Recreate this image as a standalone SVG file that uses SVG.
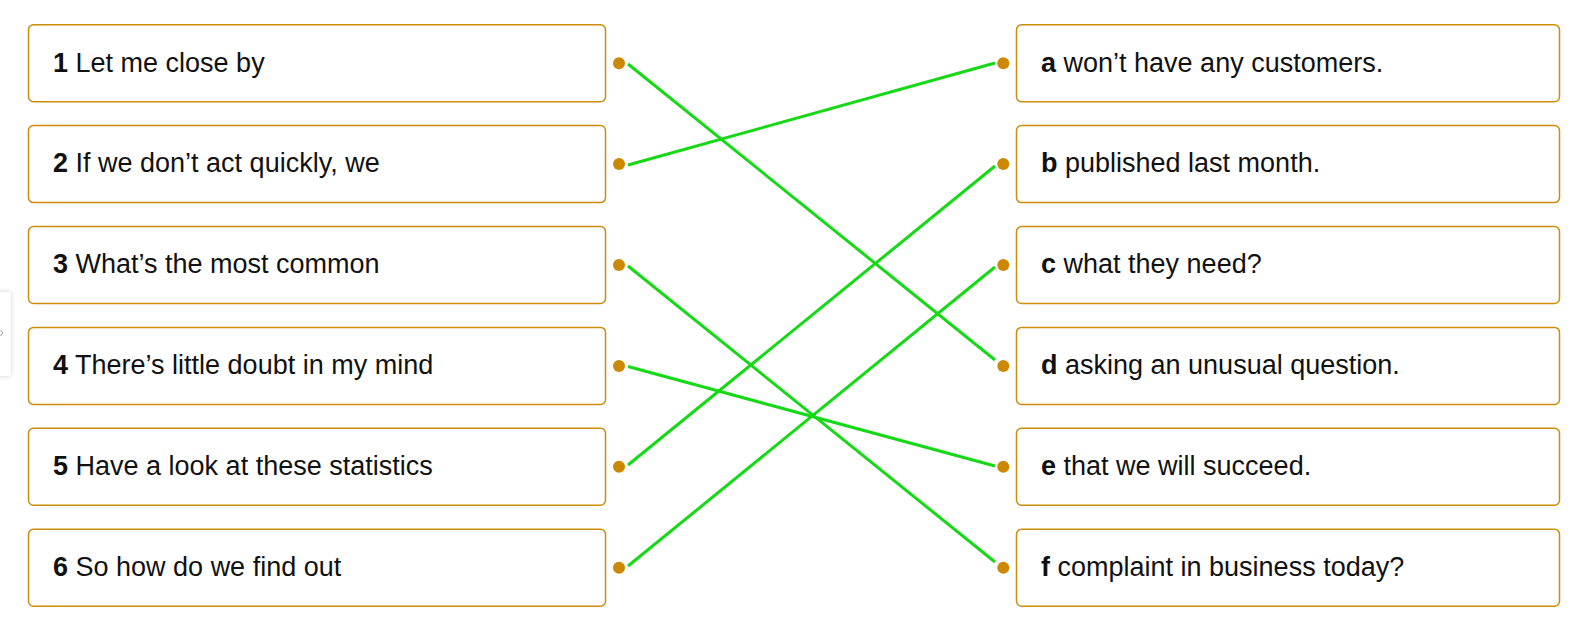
<svg xmlns="http://www.w3.org/2000/svg" width="1592" height="627" viewBox="0 0 1592 627">
<style>
.box{fill:#fff;stroke:#cc8d0a;stroke-width:1.5}
.dot{fill:#cc8800}
.lbl{font-family:"Liberation Sans",Arial,sans-serif;font-size:27px;fill:#111}
.lbl tspan.k{font-weight:bold}
.conn line{stroke:#16d916;stroke-width:3;stroke-linecap:butt}
</style>
<defs>
<filter id="sh" x="-50%" y="-20%" width="200%" height="140%">
<feDropShadow dx="0" dy="0" stdDeviation="2.5" flood-color="#000" flood-opacity="0.18"/>
</filter>
</defs>
<rect width="1592" height="627" fill="#fff"/>
<g id="side-tab">
<rect x="-6" y="292" width="17" height="84" rx="3" fill="#fff" filter="url(#sh)"/>
<path d="M0.5,330 L3,333 L0.5,336" fill="none" stroke="#999" stroke-width="1"/>
</g>
<g class="conn" id="connectors">
<line x1="628" y1="64" x2="995" y2="360"/>
<line x1="628" y1="165" x2="995" y2="63"/>
<line x1="628" y1="266" x2="995" y2="562"/>
<line x1="628" y1="366.5" x2="995" y2="466"/>
<line x1="628" y1="465" x2="995" y2="166"/>
<line x1="628" y1="566" x2="995" y2="267"/>
</g>
<g id="n1"><rect class="box" x="28.5" y="24.7" width="577" height="77" rx="5"/><circle class="dot" cx="619" cy="63.2" r="6"/><text class="lbl" x="53" y="71.5"><tspan class="k">1</tspan> Let me close by</text></g>
<g id="n2"><rect class="box" x="28.5" y="125.6" width="577" height="77" rx="5"/><circle class="dot" cx="619" cy="164.1" r="6"/><text class="lbl" x="53" y="172.4"><tspan class="k">2</tspan> If we don’t act quickly, we</text></g>
<g id="n3"><rect class="box" x="28.5" y="226.5" width="577" height="77" rx="5"/><circle class="dot" cx="619" cy="265" r="6"/><text class="lbl" x="53" y="273.3"><tspan class="k">3</tspan> What’s the most common</text></g>
<g id="n4"><rect class="box" x="28.5" y="327.4" width="577" height="77" rx="5"/><circle class="dot" cx="619" cy="365.9" r="6"/><text class="lbl" x="53" y="374.2"><tspan class="k">4</tspan> There’s little doubt in my mind</text></g>
<g id="n5"><rect class="box" x="28.5" y="428.3" width="577" height="77" rx="5"/><circle class="dot" cx="619" cy="466.8" r="6"/><text class="lbl" x="53" y="475.1"><tspan class="k">5</tspan> Have a look at these statistics</text></g>
<g id="n6"><rect class="box" x="28.5" y="529.2" width="577" height="77" rx="5"/><circle class="dot" cx="619" cy="567.7" r="6"/><text class="lbl" x="53" y="576"><tspan class="k">6</tspan> So how do we find out</text></g>
<g id="na"><rect class="box" x="1016.5" y="24.7" width="543" height="77" rx="5"/><circle class="dot" cx="1003.3" cy="63.2" r="6"/><text class="lbl" x="1041" y="71.5"><tspan class="k">a</tspan> won’t have any customers.</text></g>
<g id="nb"><rect class="box" x="1016.5" y="125.6" width="543" height="77" rx="5"/><circle class="dot" cx="1003.3" cy="164.1" r="6"/><text class="lbl" x="1041" y="172.4"><tspan class="k">b</tspan> published last month.</text></g>
<g id="nc"><rect class="box" x="1016.5" y="226.5" width="543" height="77" rx="5"/><circle class="dot" cx="1003.3" cy="265" r="6"/><text class="lbl" x="1041" y="273.3"><tspan class="k">c</tspan> what they need?</text></g>
<g id="nd"><rect class="box" x="1016.5" y="327.4" width="543" height="77" rx="5"/><circle class="dot" cx="1003.3" cy="365.9" r="6"/><text class="lbl" x="1041" y="374.2"><tspan class="k">d</tspan> asking an unusual question.</text></g>
<g id="ne"><rect class="box" x="1016.5" y="428.3" width="543" height="77" rx="5"/><circle class="dot" cx="1003.3" cy="466.8" r="6"/><text class="lbl" x="1041" y="475.1"><tspan class="k">e</tspan> that we will succeed.</text></g>
<g id="nf"><rect class="box" x="1016.5" y="529.2" width="543" height="77" rx="5"/><circle class="dot" cx="1003.3" cy="567.7" r="6"/><text class="lbl" x="1041" y="576"><tspan class="k">f</tspan> complaint in business today?</text></g>
</svg>
